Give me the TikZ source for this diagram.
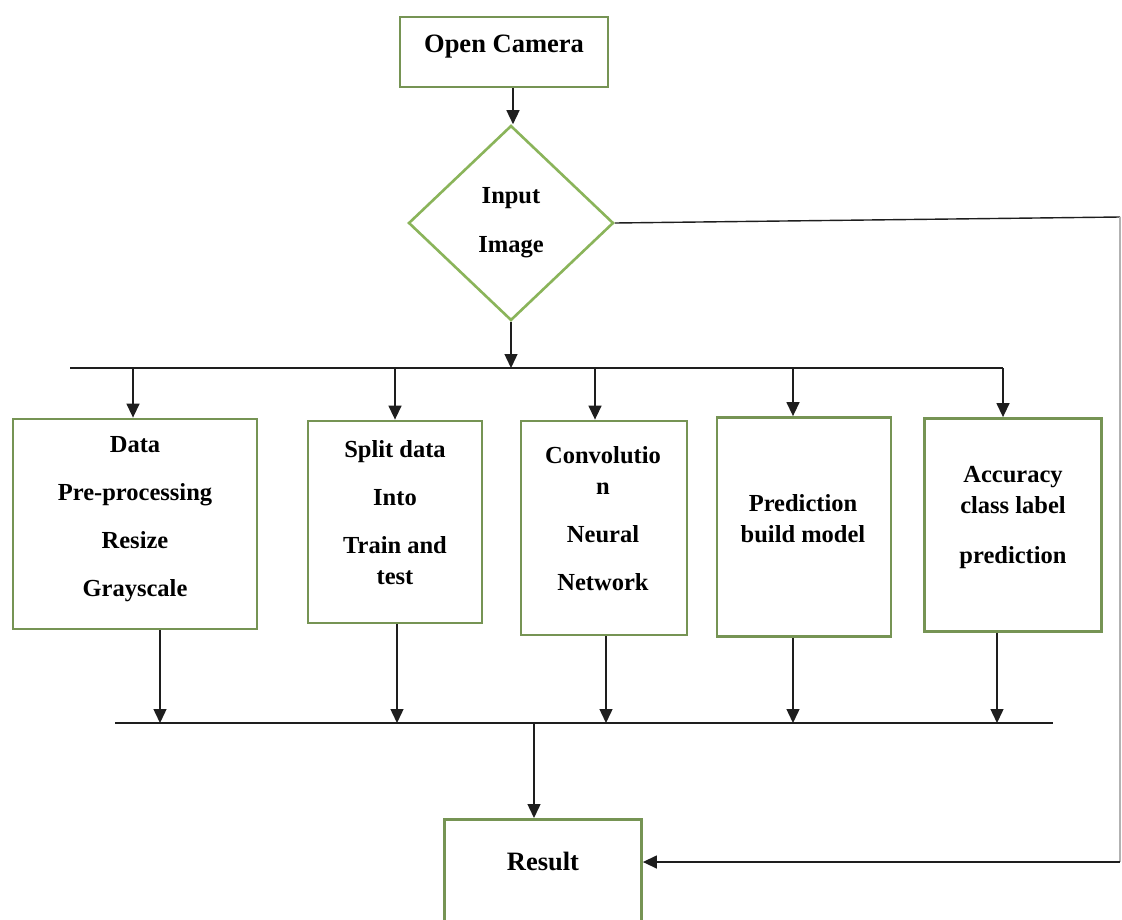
\documentclass[tikz,border=0pt]{standalone}
\usepackage{fontspec}
\setmainfont{Liberation Serif}
\usetikzlibrary{shapes.geometric,arrows.meta}
\definecolor{boxgreen}{RGB}{118,148,84}
\definecolor{diagreen}{RGB}{138,180,90}
\definecolor{linegray}{RGB}{30,30,30}
\begin{document}
\begin{tikzpicture}[x=1pt,y=-1pt,
  stepbox/.style={rectangle,draw=boxgreen,line width=2.8pt,fill=white,inner sep=0pt},
  decision/.style={diamond,draw=diagreen,line width=2.6pt,fill=white,inner sep=0pt,
    minimum width=205pt,minimum height=195pt,aspect=1.05,align=center,
    font=\bfseries\fontsize{24.5}{49}\selectfont},
  lbl/.style={align=center,inner sep=0pt,font=\bfseries\fontsize{24.5}{31}\selectfont},
  big/.style={align=center,inner sep=0pt,font=\bfseries\fontsize{26.5}{31}\selectfont},
  conn/.style={draw=linegray,line width=1.4pt},
  faint/.style={draw=black!30,line width=1.4pt},
  arr/.style={conn,-{Triangle[length=14pt,width=13pt]}}]
\useasboundingbox (0,0) rectangle (1122,919);
\clip (0,0) rectangle (1122,919);
\fill[white] (0,0) rectangle (1122,919);

% start and decision
\node[stepbox,minimum width=208pt,minimum height=70pt] (cam) at (504,52) {};
\node[big] (camT) at (504,47) {Open Camera};
\node[decision] (inp) at (511,223) {Input\\Image};

% processing stages
\node[stepbox,minimum width=244pt,minimum height=210pt] (pre) at (135,524) {};
\node[lbl] (preT) at (135,519) {Data\\[17pt]Pre-processing\\[17pt]Resize\\[17pt]Grayscale};
\node[stepbox,minimum width=174pt,minimum height=202pt] (spl) at (395,522) {};
\node[lbl] (splT) at (395,513) {Split data\\[17pt]Into\\[17pt]Train and\\test};
\node[stepbox,minimum width=166pt,minimum height=214pt] (cnn) at (604,528) {};
\node[lbl] (cnnT) at (603,519) {Convolutio\\n\\[17pt]Neural\\[17pt]Network};
\node[stepbox,minimum width=174pt,minimum height=219pt] (mod) at (804,527) {};
\node[lbl] (modT) at (803,519) {Prediction\\build model};
\node[stepbox,minimum width=177pt,minimum height=213pt] (acc) at (1013,525) {};
\node[lbl] (accT) at (1013,518) {Accuracy\\class label\\[19pt]prediction};

% result
\node[stepbox,minimum width=197pt,minimum height=140pt,anchor=north] (res) at (543,818) {};
\node[big] (resT) at (543,861) {Result};

% bus lines
\coordinate (busL) at (70,368);
\coordinate (busR) at (1003,368);
\coordinate (lowL) at (115,723);
\coordinate (lowR) at (1053,723);
\draw[conn] (busL) -- (busR);
\draw[conn] (lowL) -- (lowR);

% flow from start to the bus
\draw[arr] (cam.south -| 513,0) -- (inp.north -| 513,0);
\draw[arr] (inp.south) -- (inp.south |- busL);

% branches to the stages
\coordinate (d1) at (133,368);
\coordinate (d2) at (395,368);
\coordinate (d3) at (595,368);
\coordinate (d4) at (793,368);
\coordinate (d5) at (1003,368);
\draw[arr] (d1) -- (d1 |- pre.north);
\draw[arr] (d2) -- (d2 |- spl.north);
\draw[arr] (d3) -- (d3 |- cnn.north);
\draw[arr] (d4) -- (d4 |- mod.north);
\draw[arr] (d5) -- (d5 |- acc.north);

% stages down to the lower bus
\coordinate (u1) at (160,723);
\coordinate (u2) at (397,723);
\coordinate (u3) at (606,723);
\coordinate (u4) at (793,723);
\coordinate (u5) at (997,723);
\draw[arr] (u1 |- pre.south) -- (u1);
\draw[arr] (u2 |- spl.south) -- (u2);
\draw[arr] (u3 |- cnn.south) -- (u3);
\draw[arr] (u4 |- mod.south) -- (u4);
\draw[arr] (u5 |- acc.south) -- (u5);

% lower bus to result
\coordinate (r0) at (534,723);
\draw[arr] (r0) -- (r0 |- res.north);

% bypass from the decision straight to the result
\coordinate (fb1) at (1120,217);
\coordinate (fb2) at (1120,862);
\draw[conn] (inp.east) -- (fb1);
\draw[faint] (fb1) -- (fb2);
\draw[arr] (fb2) -- (fb2 -| res.east);
\end{tikzpicture}
\end{document}
